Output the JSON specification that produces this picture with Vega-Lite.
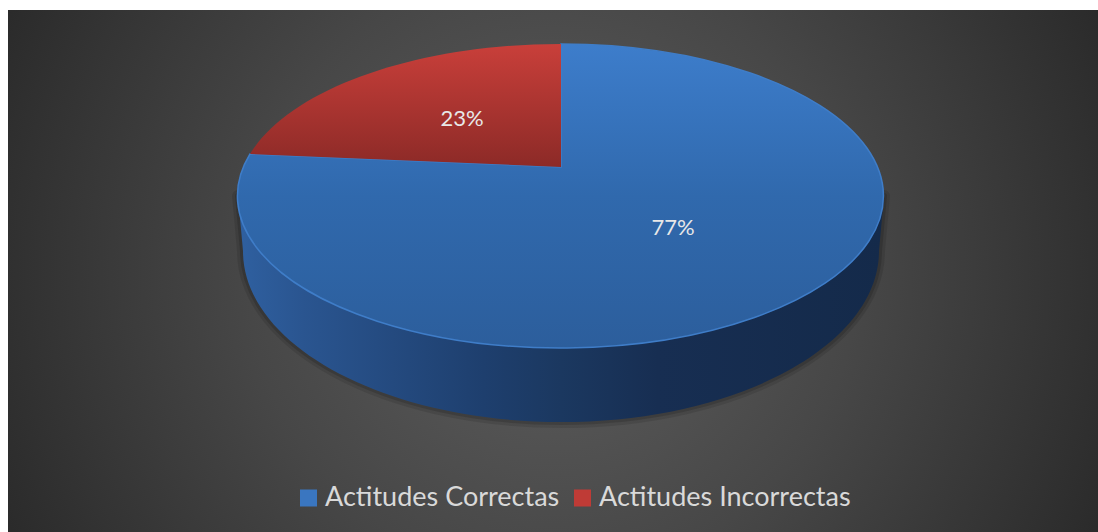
{
"$schema":"https://vega.github.io/schema/vega-lite/v6.json",
"width":1090,"height":522,
"padding":{"left":8,"top":10,"right":0,"bottom":0},
"autosize":{"type":"none"},
"background":"#ffffff",
"view":{"stroke":null,"fill":{"gradient":"radial","x1":0.5,"y1":0.5,"r1":0,"x2":0.5,"y2":0.5,"r2":0.56,"stops":[{"offset":0,"color":"#5f5f5f"},{"offset":0.5,"color":"#474747"},{"offset":1,"color":"#2a2a2a"}]}},
"data":{"values":[{"category":"Actitudes Correctas","share":0.77},{"category":"Actitudes Incorrectas","share":0.23}]},
"layer":[
{"transform":[{"filter":"datum.category==='Actitudes Correctas'"}],
 "mark":{"type":"point","filled":true,"size":4,"fillOpacity":0,"stroke":"#000000","strokeOpacity":0.1,"strokeWidth":12,"strokeJoin":"round"},
 "encoding":{
  "x":{"datum":553,"type":"quantitative","scale":{"domain":[0,1090],"range":[0,1090]},"axis":null},
  "y":{"datum":186,"type":"quantitative","scale":{"domain":[0,522],"range":[0,522]},"axis":null},
  "shape":{"field":"category","type":"nominal","legend":null,"scale":{"domain":["Actitudes Correctas"],"range":["M-323,0 L-318,55 A318,171 0 0 0 318,55 L323,0 Z"]}}
 }},
{"transform":[{"filter":"datum.category==='Actitudes Correctas'"}],
 "mark":{"type":"point","filled":true,"size":4,"fillOpacity":0,"stroke":"#000000","strokeOpacity":0.14,"strokeWidth":6,"strokeJoin":"round"},
 "encoding":{
  "x":{"datum":553,"type":"quantitative","scale":{"domain":[0,1090],"range":[0,1090]},"axis":null},
  "y":{"datum":186,"type":"quantitative","scale":{"domain":[0,522],"range":[0,522]},"axis":null},
  "shape":{"field":"category","type":"nominal","legend":null,"scale":{"domain":["Actitudes Correctas"],"range":["M-323,0 L-318,55 A318,171 0 0 0 318,55 L323,0 Z"]}}
 }},
{"transform":[{"filter":"datum.category==='Actitudes Correctas'"}],
 "mark":{"type":"point","filled":true,"size":4,"opacity":1,"fill":{"gradient":"linear","x1":0,"y1":0,"x2":1,"y2":0,"stops":[{"offset":0,"color":"#2f60a0"},{"offset":0.1,"color":"#2a5590"},{"offset":0.38,"color":"#1e3f6e"},{"offset":0.5,"color":"#1b3860"},{"offset":0.65,"color":"#172e52"},{"offset":1,"color":"#142a4a"}]},"stroke":null},
 "encoding":{
  "x":{"datum":553,"type":"quantitative","scale":{"domain":[0,1090],"range":[0,1090]},"axis":null},
  "y":{"datum":186,"type":"quantitative","scale":{"domain":[0,522],"range":[0,522]},"axis":null},
  "shape":{"field":"category","type":"nominal","legend":null,"scale":{"domain":["Actitudes Correctas"],"range":["M-323,0 L-318,55 A318,171 0 0 0 318,55 L323,0 Z"]}}
 }},
{"mark":{"type":"point","filled":true,"shape":"square","size":100,"opacity":1},
 "encoding":{
  "x":{"datum":553,"type":"quantitative","scale":{"domain":[0,1090],"range":[0,1090]},"axis":null},
  "y":{"datum":186,"type":"quantitative","scale":{"domain":[0,522],"range":[0,522]},"axis":null},
  "color":{"field":"category","type":"nominal","scale":{"domain":["Actitudes Correctas","Actitudes Incorrectas"],"range":["#3a76c0","#bf3b36"]},
  "legend":{"title":null,"orient":"none","legendX":287,"legendY":473,"direction":"horizontal","columns":2,"columnPadding":9,"symbolType":"square","symbolSize":289,"symbolStrokeWidth":0,"labelOffset":3,"labelFont":"Lato","labelFontSize":27,"labelColor":"#d9d9d9","labelLimit":320,"clipHeight":30}}
 }},
{"transform":[{"filter":"datum.category==='Actitudes Correctas'"}],
 "mark":{"type":"point","filled":true,"size":4,"opacity":1,"strokeWidth":1.5,"stroke":"#3f7dc8","fill":{"gradient":"linear","x1":0,"y1":0,"x2":0,"y2":1,"stops":[{"offset":0,"color":"#3d7dcb"},{"offset":0.5,"color":"#3069ad"},{"offset":1,"color":"#2c5e9c"}]}},
 "encoding":{
  "x":{"datum":553,"type":"quantitative","scale":{"domain":[0,1090],"range":[0,1090]},"axis":null},
  "y":{"datum":186,"type":"quantitative","scale":{"domain":[0,522],"range":[0,522]},"axis":null},
  "shape":{"field":"category","type":"nominal","legend":null,"scale":{"domain":["Actitudes Correctas"],"range":["M0,-152 A323,152 0 1 1 -311,-42 L0,-29 Z"]}}
 }},
{"transform":[{"filter":"datum.category==='Actitudes Incorrectas'"}],
 "mark":{"type":"point","filled":true,"size":4,"opacity":1,"stroke":null,"fill":{"gradient":"linear","x1":0,"y1":0,"x2":0,"y2":1,"stops":[{"offset":0,"color":"#c93f3a"},{"offset":1,"color":"#8c2a27"}]}},
 "encoding":{
  "x":{"datum":553,"type":"quantitative","scale":{"domain":[0,1090],"range":[0,1090]},"axis":null},
  "y":{"datum":186,"type":"quantitative","scale":{"domain":[0,522],"range":[0,522]},"axis":null},
  "shape":{"field":"category","type":"nominal","legend":null,"scale":{"domain":["Actitudes Incorrectas"],"range":["M0,-29 L-311,-42 A323,152 0 0 1 0,-152 Z"]}}
 }},
{"mark":{"type":"text","font":"Lato","fontSize":22,"color":"#e8e8e8","align":"center","baseline":"middle"},
 "encoding":{
  "x":{"field":"category","type":"nominal","axis":null,"scale":{"domain":["Actitudes Correctas","Actitudes Incorrectas"],"range":[665,454],"padding":0}},
  "y":{"field":"category","type":"nominal","axis":null,"scale":{"domain":["Actitudes Correctas","Actitudes Incorrectas"],"range":[218,109],"padding":0}},
  "text":{"field":"share","type":"quantitative","format":".0%"}
 }}
],
"resolve":{"scale":{"x":"independent","y":"independent","shape":"independent","color":"independent"}}
}
